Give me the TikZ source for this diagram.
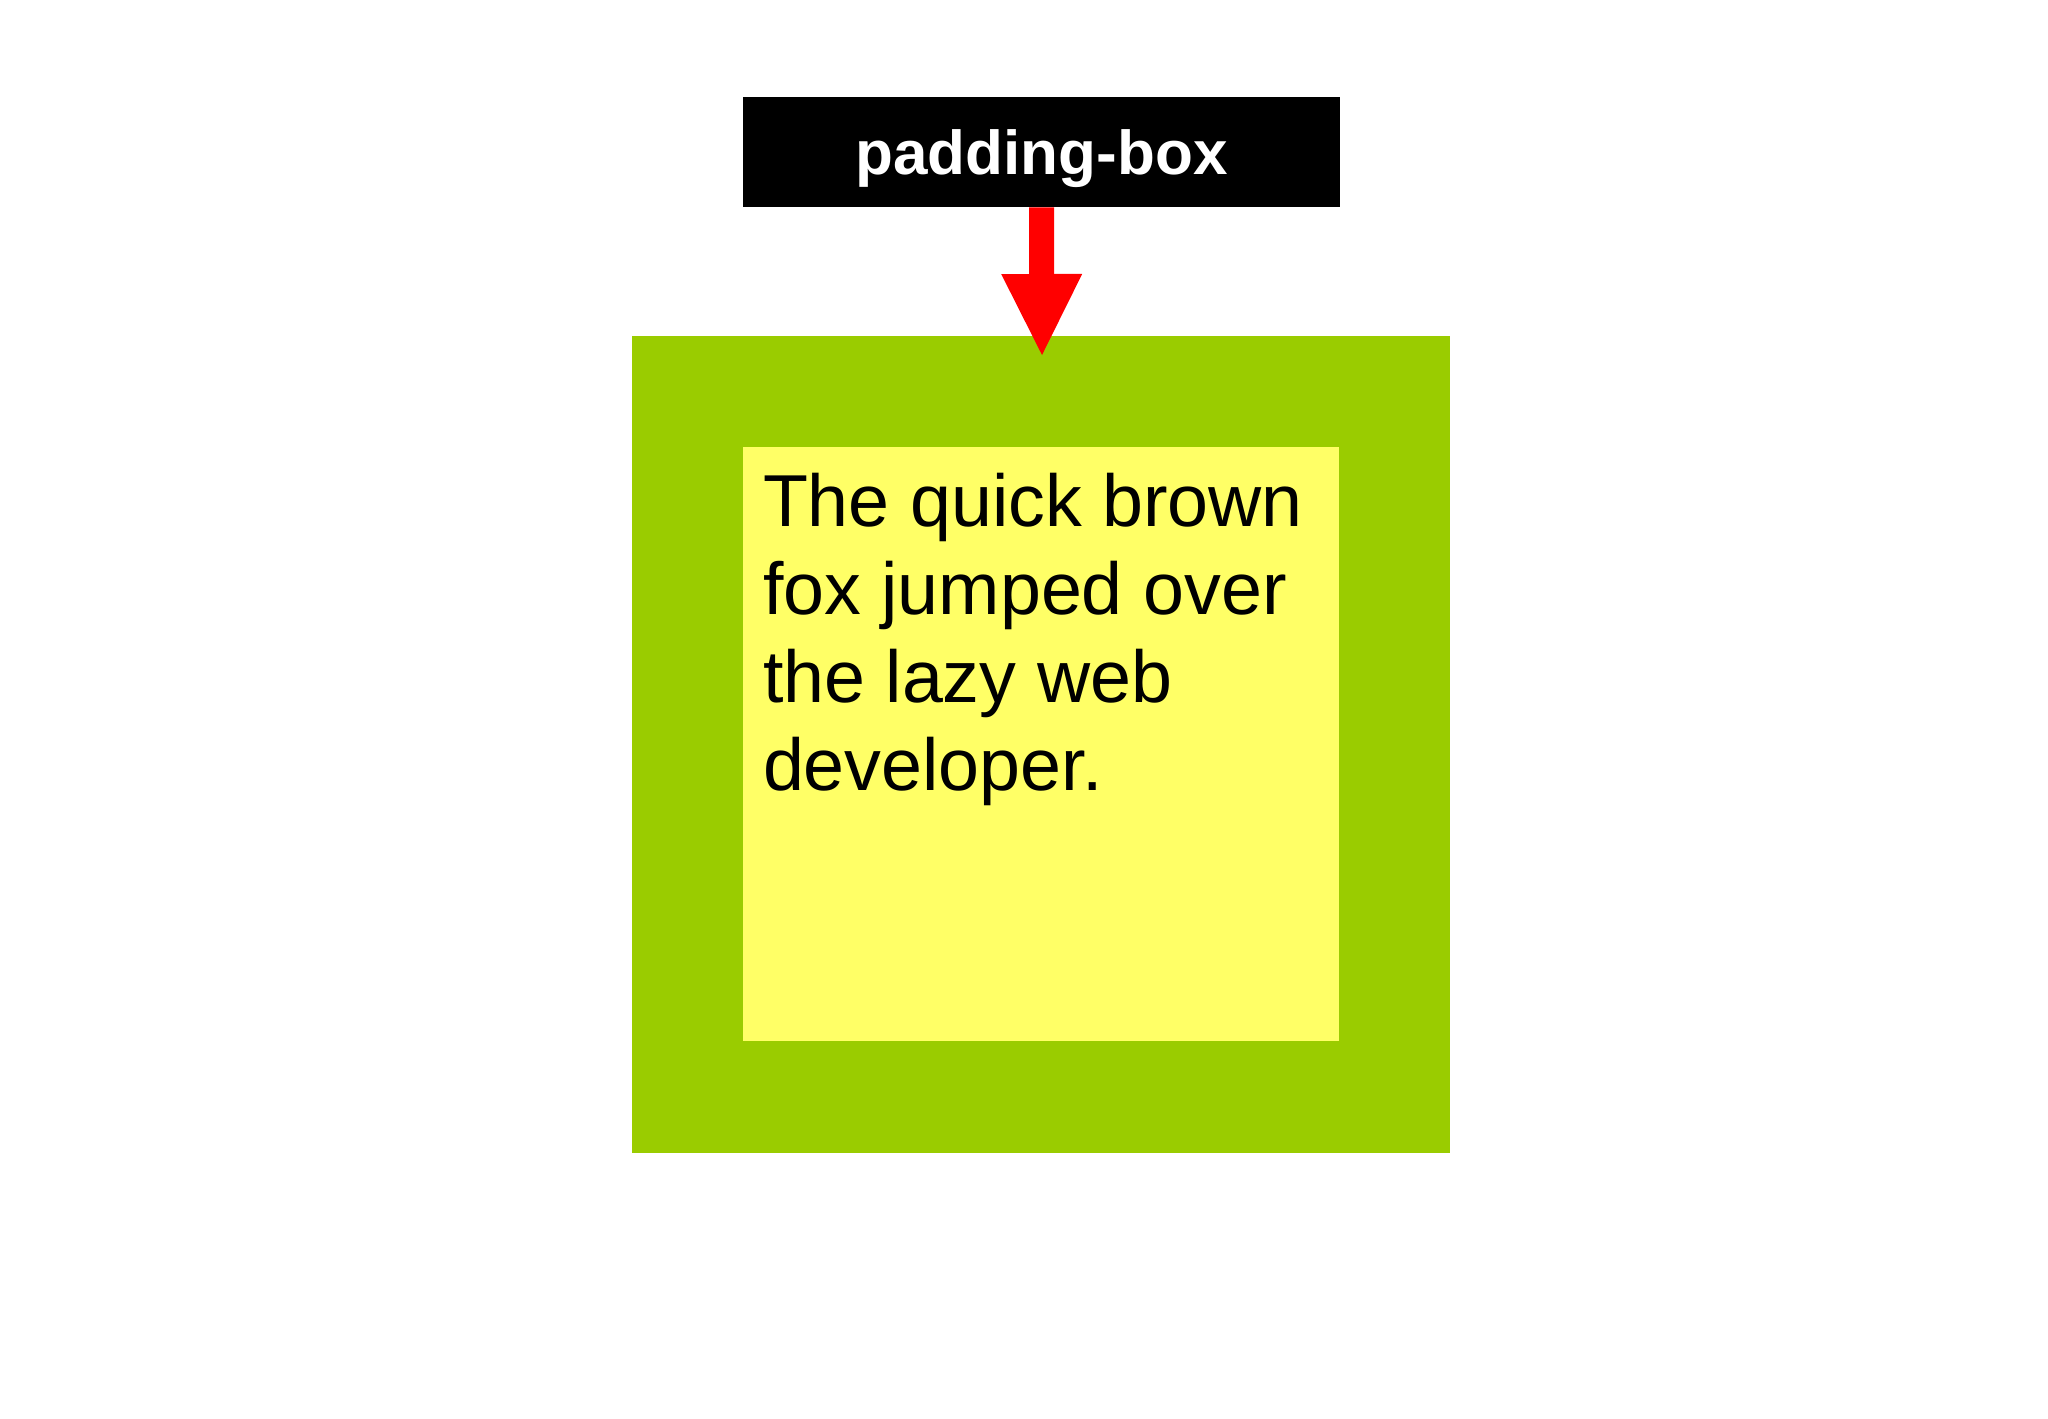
\documentclass[tikz,border=0pt]{standalone}
\usepackage{fontspec}
\setmainfont{Liberation Sans}
\usetikzlibrary{arrows.meta}
\definecolor{bordergreen}{RGB}{154,204,0}
\definecolor{contentyellow}{RGB}{255,255,102}
\tikzset{
  area/.style={inner sep=0pt, outer sep=0pt},
  tag/.style={fill=black, text=white, inner sep=0pt, text depth=0pt, font=\fontsize{31pt}{37pt}\selectfont\bfseries},
  pointer/.style={draw=red, line width=12.5pt, -{Triangle[width=40.5pt, length=40.5pt, line width=0pt]}}
}
\begin{document}
\begin{tikzpicture}[x=0.5pt, y=-0.5pt]
\useasboundingbox (0,0) rectangle (2048,1418);
\node[area, fill=bordergreen, minimum width=409pt, minimum height=408.5pt] (border-area) at (1041,744.5) {};
\node[area, fill=contentyellow, minimum width=298pt, minimum height=297pt] (content-area) at (1041,744) {};
\node[area, anchor=base west, align=left, font=\fontsize{36.8pt}{44pt}\selectfont] (fox-text) at (763,790) {The quick brown\\fox jumped over\\the lazy web\\developer.};
\node[tag, minimum width=298.5pt, minimum height=55pt] (padding-box) at (1041.5,152) {padding-box};
\coordinate (tip) at (1042,355);
\draw[pointer] (padding-box.south) -- (tip);
\end{tikzpicture}
\end{document}
